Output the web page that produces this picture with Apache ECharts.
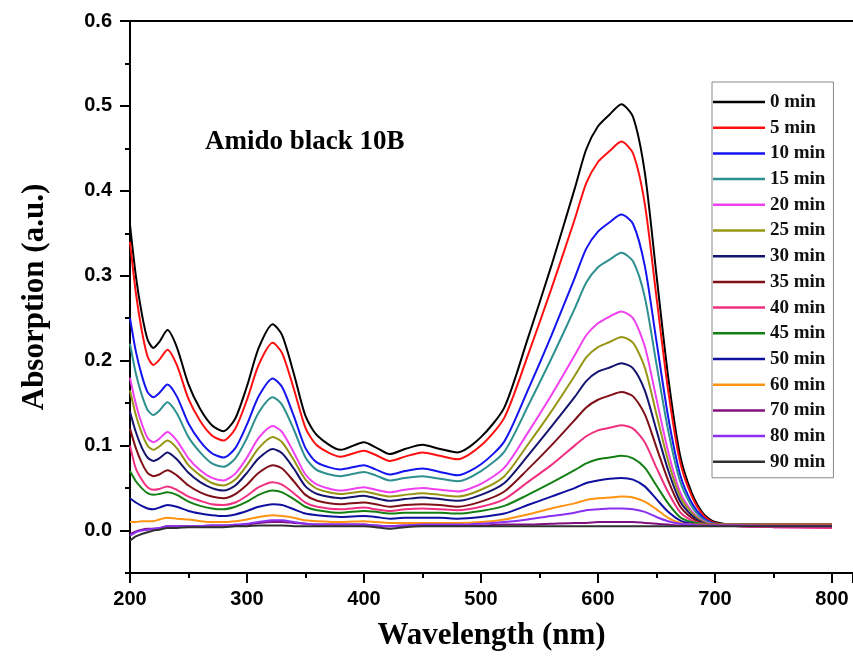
<!DOCTYPE html>
<html>
<head>
<meta charset="utf-8">
<script src="https://cdn.jsdelivr.net/npm/echarts@6/dist/echarts.min.js"></script>
<style>html,body{margin:0;padding:0;background:#fff;}#c{width:853px;height:659px;}</style>
</head>
<body>
<div id="c"></div>
<script>
// Wavelengths (nm)
var wavelengths = [200,205,210,215,220,225,232,240,250,260,270,280,290,300,310,322,330,340,350,360,380,400,410,422,435,450,465,480,
  500,520,540,560,580,590,600,610,620,630,640,650,660,670,680,690,700,720,750,800];

var seriesNames = ['0 min','5 min','10 min','15 min','20 min','25 min','30 min','35 min','40 min','45 min','50 min','60 min','70 min','80 min','90 min'];
var seriesColors = ['#000000','#ff1010','#1414f0','#2f9090','#f040f0','#969614','#141470','#801018','#f03080','#148014','#1010a0','#ff9414','#801080','#8a30f0','#303030'];

var s0  = [.36,.300,.256,.225,.215,.222,.236,.216,.172,.143,.124,.117,.132,.170,.215,.243,.230,.185,.135,.112,.095,.104,.098,.090,.096,.101,.096,.092,
  .110,.145,.226,.311,.402,.449,.476,.490,.502,.487,.422,.301,.181,.090,.045,.020,.010,.007,.007,.007];
var s5  = [.34,.280,.236,.205,.195,.201,.213,.195,.155,.129,.112,.106,.120,.154,.195,.221,.209,.167,.121,.100,.087,.094,.089,.082,.087,.092,.088,.084,
  .100,.133,.206,.284,.366,.409,.434,.447,.458,.444,.385,.275,.165,.082,.041,.018,.009,.007,.007,.007];
var s10 = [.25,.211,.183,.163,.157,.162,.172,.158,.126,.105,.091,.086,.097,.125,.158,.179,.169,.135,.097,.080,.072,.077,.072,.066,.070,.073,.069,.065,
  .078,.105,.165,.229,.297,.332,.352,.363,.372,.361,.312,.223,.134,.067,.033,.015,.008,.007,.007,.006];
var s15 = [.22,.185,.160,.142,.136,.141,.151,.138,.110,.092,.079,.075,.085,.109,.139,.157,.148,.119,.086,.071,.064,.069,.065,.059,.062,.064,.061,.058,
  .070,.093,.146,.202,.261,.292,.310,.319,.327,.317,.275,.196,.118,.059,.029,.013,.008,.007,.007,.007];
var s20 = [.18,.149,.126,.109,.104,.108,.116,.106,.085,.071,.062,.059,.067,.086,.109,.123,.116,.092,.066,.054,.047,.051,.048,.045,.048,.050,.048,.046,
  .055,.074,.115,.159,.206,.230,.244,.252,.258,.250,.217,.155,.093,.046,.023,.011,.007,.005,.004,.003];
var s25 = [.165,.136,.115,.100,.095,.099,.106,.097,.077,.065,.056,.053,.060,.077,.097,.110,.104,.083,.060,.049,.043,.046,.043,.040,.042,.044,.042,.040,
  .048,.064,.101,.140,.182,.204,.216,.222,.228,.221,.192,.137,.082,.041,.021,.010,.007,.007,.006,.006];
var s30 = [.14,.116,.098,.086,.082,.085,.092,.084,.068,.057,.050,.047,.053,.068,.085,.096,.091,.073,.052,.043,.038,.041,.038,.035,.037,.039,.037,.035,
  .042,.056,.088,.122,.157,.176,.187,.192,.197,.191,.165,.118,.071,.035,.018,.009,.007,.007,.007,.007];
var s35 = [.12,.097,.080,.068,.064,.066,.071,.065,.053,.045,.040,.038,.043,.054,.068,.077,.073,.058,.042,.035,.031,.033,.031,.028,.030,.031,.030,.028,
  .034,.046,.072,.100,.130,.145,.154,.159,.163,.158,.137,.098,.059,.029,.015,.008,.007,.006,.006,.005];
var s40 = [.10,.073,.060,.051,.048,.049,.052,.048,.040,.035,.031,.030,.033,.041,.051,.057,.054,.044,.033,.028,.025,.027,.025,.023,.025,.026,.025,.024,
  .028,.037,.057,.077,.100,.111,.118,.121,.124,.120,.104,.074,.045,.022,.012,.008,.007,.005,.004,.003];
var s45 = [.07,.058,.050,.044,.042,.043,.045,.042,.034,.029,.026,.025,.028,.034,.042,.047,.045,.037,.028,.024,.021,.023,.022,.020,.021,.021,.021,.020,
  .023,.029,.042,.056,.071,.079,.084,.086,.088,.085,.074,.053,.032,.016,.010,.008,.007,.007,.007,.007];
var s50 = [.038,.033,.029,.026,.025,.027,.030,.028,.023,.020,.018,.017,.019,.023,.028,.031,.030,.025,.020,.018,.016,.017,.016,.014,.015,.015,.015,.014,
  .016,.020,.030,.040,.050,.056,.059,.061,.062,.060,.052,.037,.022,.012,.008,.007,.007,.007,.007,.007];
var s60 = [.010,.010,.011,.011,.011,.013,.015,.014,.013,.011,.010,.010,.011,.013,.016,.018,.017,.015,.012,.011,.010,.011,.010,.009,.009,.009,.009,.009,
  .010,.013,.019,.026,.032,.036,.038,.039,.040,.039,.034,.025,.015,.009,.007,.007,.007,.007,.007,.007];
var s70 = [-.004,-.001,.001,.002,.002,.003,.005,.005,.005,.005,.006,.006,.006,.007,.009,.010,.010,.009,.008,.007,.007,.007,.006,.005,.006,.006,.006,.006,
  .006,.007,.007,.008,.009,.009,.010,.010,.010,.010,.009,.008,.007,.006,.006,.006,.006,.006,.006,.006];
var s80 = [-.006,-.002,.000,.001,.002,.003,.005,.005,.005,.005,.006,.006,.007,.008,.010,.012,.012,.010,.008,.007,.007,.007,.006,.005,.006,.007,.007,.007,
  .008,.010,.013,.017,.021,.024,.025,.026,.026,.025,.022,.016,.011,.008,.007,.006,.006,.006,.005,.005];
var s90 = [-.012,-.007,-.004,-.002,.000,.001,.003,.003,.004,.004,.004,.004,.005,.005,.006,.006,.006,.005,.005,.005,.005,.005,.004,.002,.004,.005,.005,.005,
  .005,.005,.005,.005,.005,.005,.005,.005,.005,.005,.005,.005,.005,.005,.005,.005,.005,.005,.005,.005];

var allValues = [s0,s5,s10,s15,s20,s25,s30,s35,s40,s45,s50,s60,s70,s80,s90];

var xTickLabels = [200,300,400,500,600,700,800];
var yTickLabels = [0,0.1,0.2,0.3,0.4,0.5,0.6];

var SERIF = '"Liberation Serif","Times New Roman",serif';
var SANS = '"Liberation Sans",Arial,sans-serif';

var chart = echarts.init(document.getElementById('c'), null, {renderer:'canvas'});

var series = allValues.map(function(vals, i){
  return {
    name: seriesNames[i],
    type: 'line',
    xAxisIndex: 0,
    yAxisIndex: 0,
    showSymbol: false,
    smooth: 0.25,
    color: seriesColors[i],
    lineStyle: {width: 2, color: seriesColors[i]},
    data: wavelengths.map(function(w, k){ return [w, vals[k]]; }),
    animation: false
  };
});

var axisBlack = {color:'#000', width:2};

chart.setOption({
  animation: false,
  backgroundColor: '#fff',
  title: {
    text: 'Amido black 10B',
    left: 205, top: 129, padding: 0,
    textStyle: {fontFamily: SERIF, fontWeight: 'bold', fontSize: 27, color: '#000'}
  },
  legend: {
    orient: 'vertical',
    left: 712, top: 82,
    padding: [10, 8, 6, 1],
    itemWidth: 52, itemHeight: 2.5, itemGap: 5.7,
    icon: 'rect',
    borderColor: '#888', borderWidth: 1,
    data: seriesNames,
    textStyle: {fontFamily: SERIF, fontWeight: 'bold', fontSize: 19, lineHeight: 20, color: '#111'}
  },
  grid: {left: 130, right: 0, top: 21, bottom: 86, containLabel: false, outerBoundsMode: 'none'},
  xAxis: [
    {
      type: 'value', min: 200, max: 818, interval: 50, position: 'bottom',
      name: 'Wavelength (nm)', nameLocation: 'middle', nameGap: 47,
      nameTextStyle: {fontFamily: SERIF, fontWeight: 'bold', fontSize: 31, color: '#000'},
      axisLine: {show: true, onZero: false, lineStyle: axisBlack},
      axisTick: {show: true, inside: false, length: 5, lineStyle: axisBlack},
      axisLabel: {
        customValues: xTickLabels, margin: 16,
        fontFamily: SANS, fontWeight: 'bold', fontSize: 20, color: '#000',
        formatter: function(v){ return (Math.round(v) % 100 === 0) ? String(Math.round(v)) : ''; }
      },
      splitLine: {show: false}
    },
    {
      type: 'value', min: 200, max: 818, position: 'top',
      axisLine: {show: true, onZero: false, lineStyle: axisBlack},
      axisTick: {show: false}, axisLabel: {show: false}, splitLine: {show: false}
    },
    {
      type: 'value', min: 200, max: 818, interval: 100, position: 'bottom',
      axisLine: {show: false, onZero: false},
      axisTick: {show: true, inside: false, length: 10, lineStyle: axisBlack},
      axisLabel: {show: false}, splitLine: {show: false}
    }
  ],
  yAxis: [
    {
      type: 'value', min: -0.05, max: 0.6, interval: 0.05, position: 'left',
      name: 'Absorption (a.u.)', nameLocation: 'middle', nameGap: 80, nameRotate: 90,
      nameTextStyle: {fontFamily: SERIF, fontWeight: 'bold', fontSize: 31, color: '#000'},
      axisLine: {show: true, onZero: false, lineStyle: axisBlack},
      axisTick: {show: true, inside: false, length: 5, lineStyle: axisBlack},
      axisLabel: {
        customValues: yTickLabels, margin: 18,
        fontFamily: SANS, fontWeight: 'bold', fontSize: 20, color: '#000',
        formatter: function(v){
          var k = Math.round(v * 100);
          return (k >= 0 && k % 10 === 0) ? (k / 100).toFixed(1) : '';
        }
      },
      splitLine: {show: false}
    },
    {
      type: 'value', min: -0.05, max: 0.6, position: 'left',
      axisLine: {show: false, onZero: false},
      axisTick: {show: true, inside: false, length: 10, customValues: yTickLabels, lineStyle: axisBlack},
      axisLabel: {show: false}, splitLine: {show: false}
    }
  ],
  series: series
});
</script>
</body>
</html>
